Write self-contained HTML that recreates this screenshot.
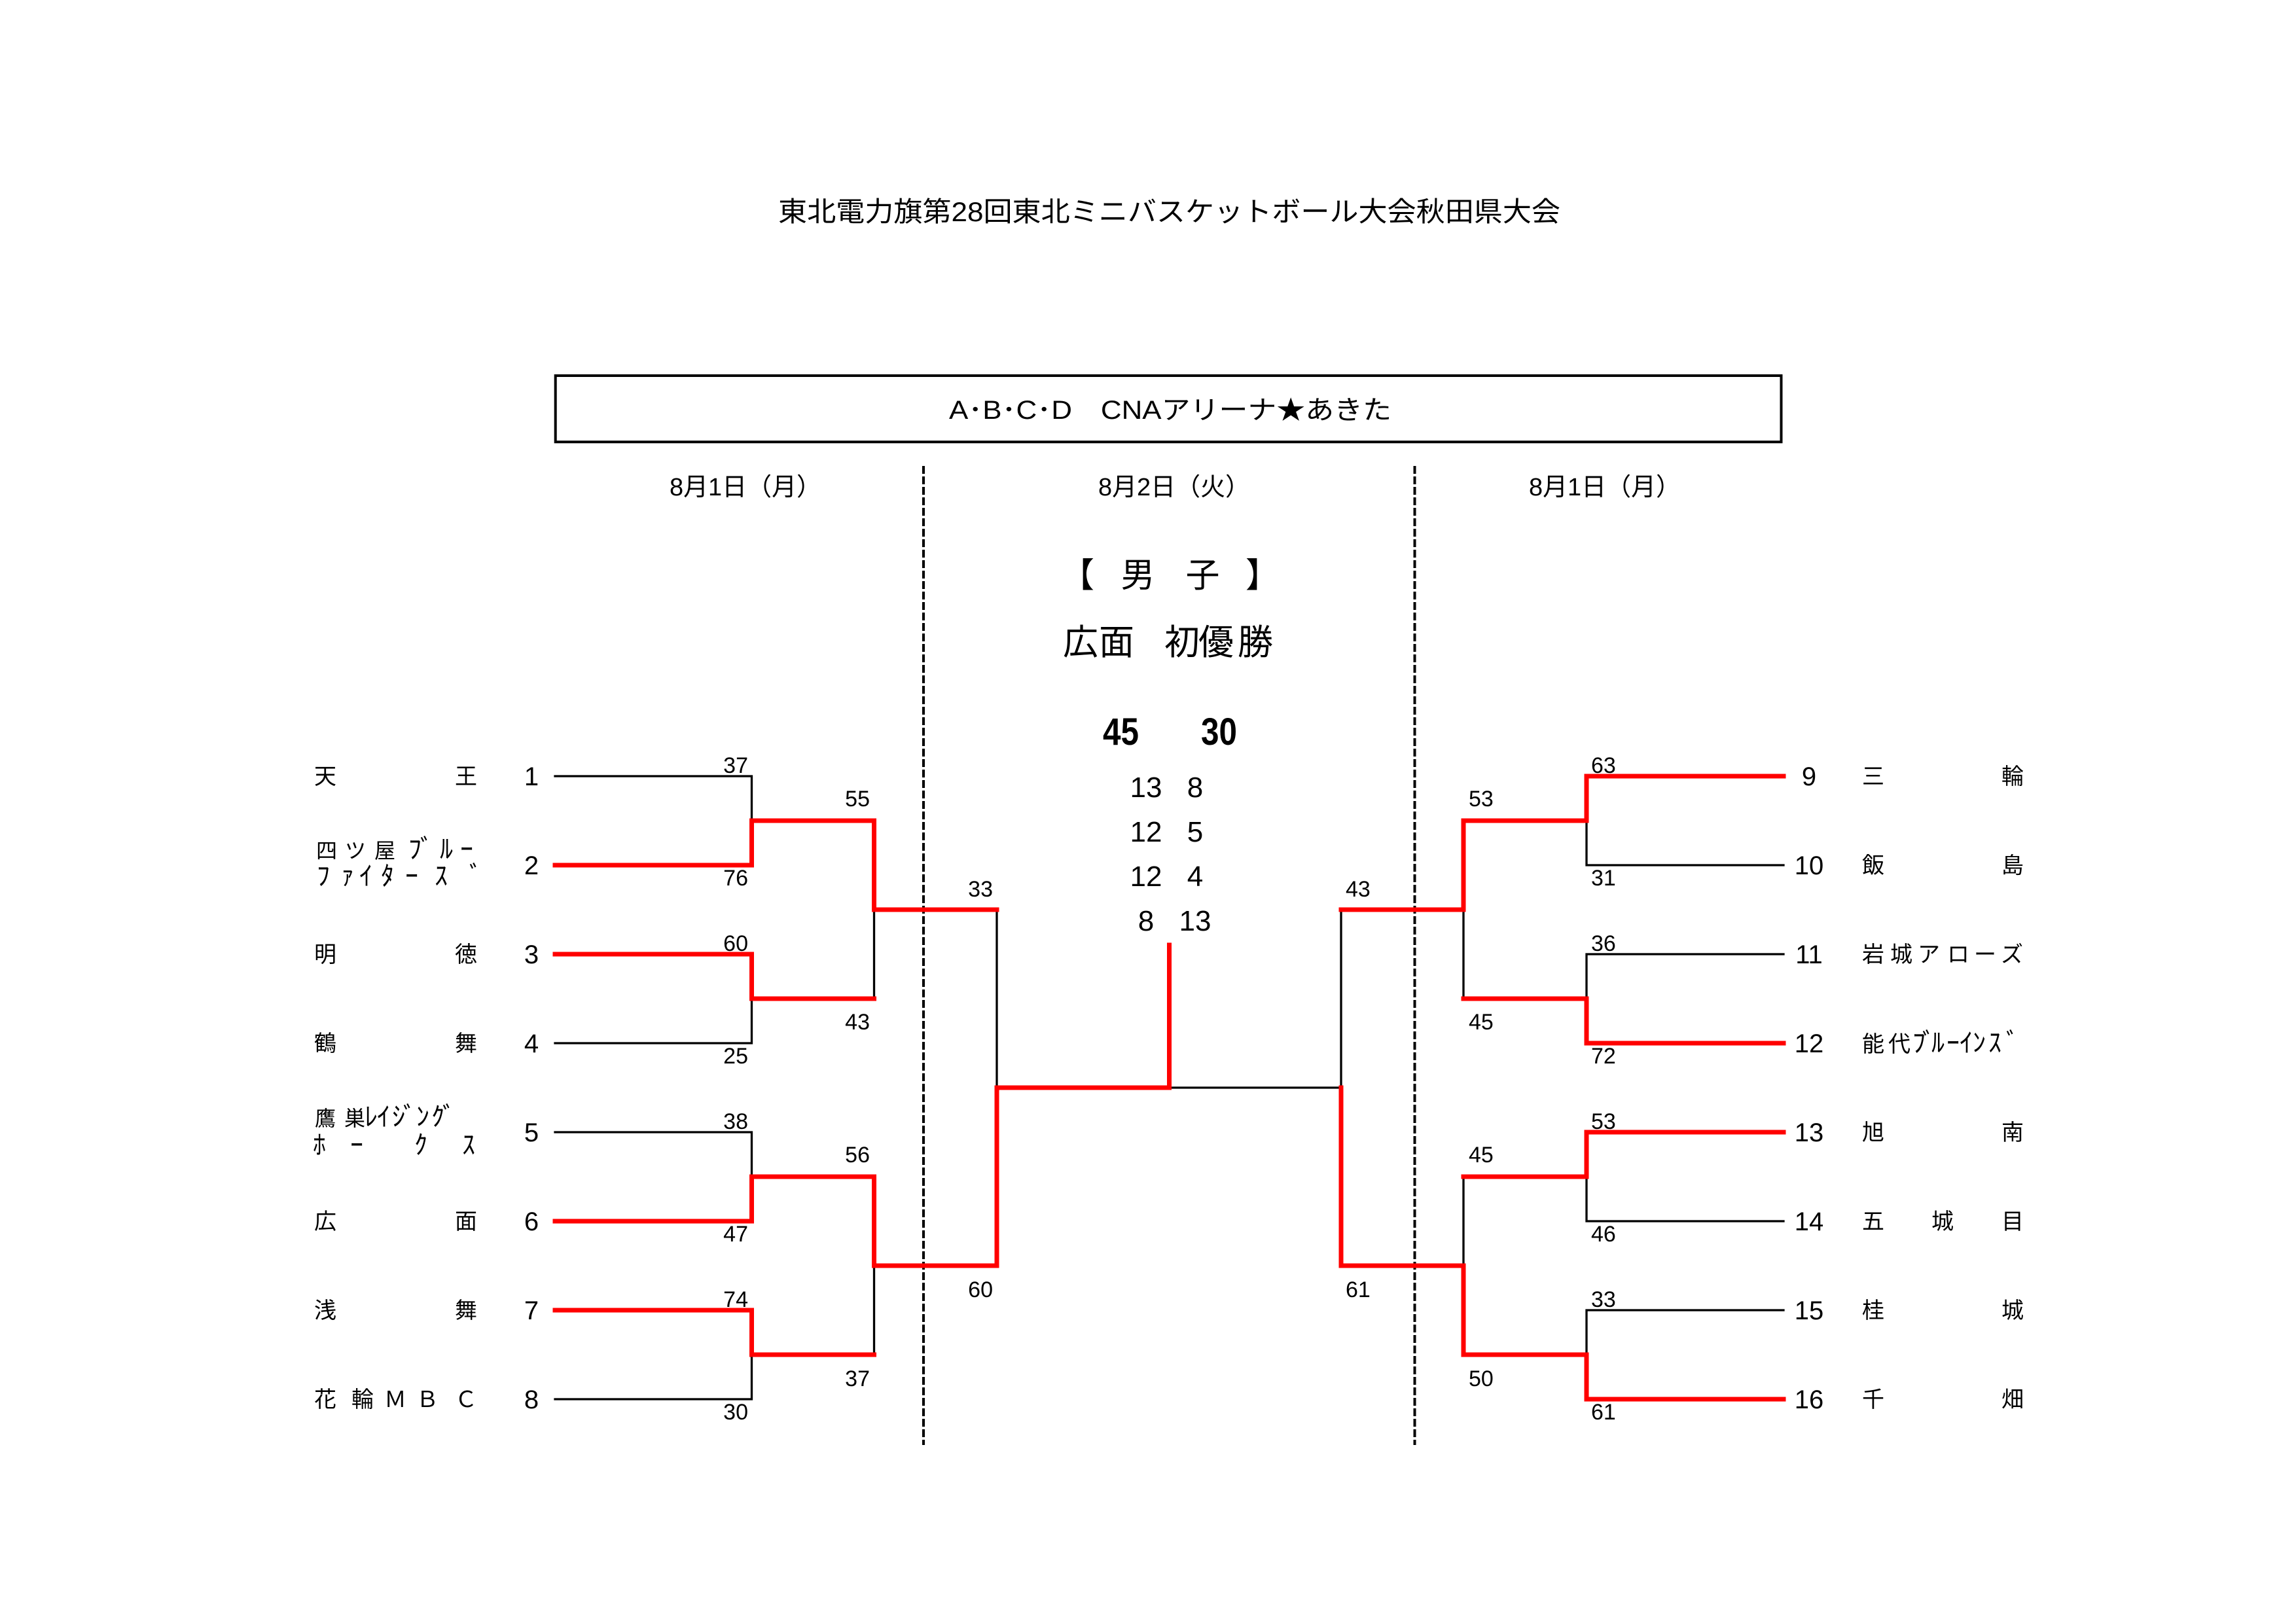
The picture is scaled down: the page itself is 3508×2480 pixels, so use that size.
<!DOCTYPE html>
<html lang="ja">
<head>
<meta charset="utf-8">
<style>
html,body{margin:0;padding:0;background:#fff;}
body{width:3508px;height:2480px;overflow:hidden;}
svg{display:block;}
text{font-family:"Liberation Sans","Noto Sans CJK JP",sans-serif;fill:#000;}
.nm{font-size:34px;}
.nm2{font-size:32px;}
.hk{font-size:40px;}
.num{font-size:40px;}
.sc{font-size:34px;}
.ps{font-size:44px;}
.blk{stroke:#000;stroke-width:3.3;fill:none;stroke-linecap:square;stroke-linejoin:miter;}
.red{stroke:#ff0000;stroke-width:7;fill:none;stroke-linecap:square;stroke-linejoin:miter;}
.dash{stroke:#000;stroke-width:4;stroke-dasharray:12 4;fill:none;}
</style>
</head>
<body>
<svg width="3508" height="2480" viewBox="0 0 3508 2480" xmlns="http://www.w3.org/2000/svg">
<rect x="0" y="0" width="3508" height="2480" fill="#fff"/>

<!-- Title -->
<text x="1189" y="338" font-size="42" textLength="1195" lengthAdjust="spacingAndGlyphs">東北電力旗第28回東北ミニバスケットボール大会秋田県大会</text>

<!-- Venue box -->
<rect x="848.7" y="574" width="1872.8" height="101.3" fill="none" stroke="#000" stroke-width="4"/>
<text x="1450" y="640" font-size="40" textLength="676" lengthAdjust="spacingAndGlyphs">A･B･C･D　CNAアリーナ★あきた</text>

<!-- Dates -->
<text x="1023" y="757" font-size="38" textLength="232" lengthAdjust="spacingAndGlyphs">8月1日（月）</text>
<text x="1678" y="757" font-size="38" textLength="232" lengthAdjust="spacingAndGlyphs">8月2日（火）</text>
<text x="2336" y="757" font-size="38" textLength="232" lengthAdjust="spacingAndGlyphs">8月1日（月）</text>

<!-- Dashed dividers -->
<line class="dash" x1="1411" y1="712" x2="1411" y2="2208"/>
<line class="dash" x1="2161.5" y1="712" x2="2161.5" y2="2208"/>

<!-- Center heading -->
<g font-size="52" text-anchor="middle">
<text x="1646" y="897">【</text>
<text x="1738.5" y="897">男</text>
<text x="1837.5" y="897">子</text>
<text x="1929" y="897">】</text>
</g>
<text x="1624 1679 1730 1779 1831 1891" y="1000" font-size="54">広面　初優勝</text>

<text x="1685" y="1138" font-size="58" font-weight="bold" textLength="55" lengthAdjust="spacingAndGlyphs">45</text>
<text x="1835" y="1138" font-size="58" font-weight="bold" textLength="55" lengthAdjust="spacingAndGlyphs">30</text>

<g class="ps" text-anchor="middle">
<text x="1751" y="1218">13</text><text x="1826" y="1218">8</text>
<text x="1751" y="1286">12</text><text x="1826" y="1286">5</text>
<text x="1751" y="1354">12</text><text x="1826" y="1354">4</text>
<text x="1751" y="1422">8</text><text x="1826" y="1422">13</text>
</g>

<!-- ===== Black bracket lines ===== -->
<g class="blk">
<path d="M848,1186 H1148.5 V1254"/>
<path d="M848,1594 H1148.5 V1526"/>
<path d="M848,1730 H1148.5 V1798"/>
<path d="M848,2138 H1148.5 V2070"/>
<path d="M1335.5,1390 V1526"/>
<path d="M1335.5,1934 V2070"/>
<path d="M1523,1390 V1662"/>
<path d="M1786.5,1662 H2049"/>
<path d="M2049,1390 V1662"/>
<path d="M2236,1390 V1526"/>
<path d="M2236,1798 V1934"/>
<path d="M2725,1322 H2424 V1254"/>
<path d="M2725,1458 H2424 V1526"/>
<path d="M2725,1866 H2424 V1798"/>
<path d="M2725,2002 H2424 V2070"/>
</g>

<!-- ===== Red winner paths ===== -->
<g class="red">
<path d="M848,1322 H1148.5 V1254 H1335.5 V1390 H1523"/>
<path d="M848,1458 H1148.5 V1526 H1335.5"/>
<path d="M848,1866 H1148.5 V1798 H1335.5 V1934 H1523 V1662 H1786.5 V1444"/>
<path d="M848,2002 H1148.5 V2070 H1335.5"/>
<path d="M2725,1186 H2424 V1254 H2236 V1390 H2049"/>
<path d="M2725,1594 H2424 V1526 H2236"/>
<path d="M2725,1730 H2424 V1798 H2236"/>
<path d="M2725,2138 H2424 V2070 H2236 V1934 H2049 V1662"/>
</g>

<!-- ===== Score labels ===== -->
<g class="sc" text-anchor="end">
<text x="1143" y="1181">37</text>
<text x="1143" y="1353">76</text>
<text x="1143" y="1453">60</text>
<text x="1143" y="1625">25</text>
<text x="1143" y="1725">38</text>
<text x="1143" y="1897">47</text>
<text x="1143" y="1997">74</text>
<text x="1143" y="2169">30</text>
<text x="1329" y="1232">55</text>
<text x="1329" y="1573">43</text>
<text x="1329" y="1776">56</text>
<text x="1329" y="2118">37</text>
<text x="1517" y="1370">33</text>
<text x="1517" y="1982">60</text>
</g>
<g class="sc" text-anchor="start">
<text x="2431" y="1181">63</text>
<text x="2431" y="1353">31</text>
<text x="2431" y="1453">36</text>
<text x="2431" y="1625">72</text>
<text x="2431" y="1725">53</text>
<text x="2431" y="1897">46</text>
<text x="2431" y="1997">33</text>
<text x="2431" y="2169">61</text>
<text x="2244" y="1232">53</text>
<text x="2244" y="1573">45</text>
<text x="2244" y="1776">45</text>
<text x="2244" y="2118">50</text>
<text x="2056" y="1370">43</text>
<text x="2056" y="1982">61</text>
</g>

<!-- ===== Seed numbers ===== -->
<g class="num" text-anchor="middle">
<text x="812" y="1200">1</text>
<text x="812" y="1336">2</text>
<text x="812" y="1472">3</text>
<text x="812" y="1608">4</text>
<text x="812" y="1744">5</text>
<text x="812" y="1880">6</text>
<text x="812" y="2016">7</text>
<text x="812" y="2152">8</text>
<text x="2764" y="1200">9</text>
<text x="2764" y="1336">10</text>
<text x="2764" y="1472">11</text>
<text x="2764" y="1608">12</text>
<text x="2764" y="1744">13</text>
<text x="2764" y="1880">14</text>
<text x="2764" y="2016">15</text>
<text x="2764" y="2152">16</text>
</g>

<!-- ===== Left team names ===== -->
<text class="nm" x="480 695" y="1198">天王</text>
<text class="nm2" x="483 527 572 624 642 672 703" y="1311">四ツ屋<tspan class="hk">ﾌﾞﾙｰ</tspan></text>
<text class="nm2" x="484 521 549 582 619 664 717" y="1352"><tspan class="hk">ﾌｧｲﾀｰｽﾞ</tspan></text>
<text class="nm" x="480 695" y="1470">明徳</text>
<text class="nm" x="480 695" y="1606">鶴舞</text>
<text class="nm2" x="481 526 557 576 599 616 636 659 676" y="1720">鷹巣<tspan class="hk">ﾚｲｼﾞﾝｸﾞ</tspan></text>
<text class="nm2" x="478 535 633 706" y="1763"><tspan class="hk">ﾎｰｸｽ</tspan></text>
<text class="nm" x="480 695" y="1878">広面</text>
<text class="nm" x="480 695" y="2014">浅舞</text>
<text class="nm" x="480 537 587 636 695" y="2150">花輪ＭＢＣ</text>

<!-- ===== Right team names ===== -->
<text class="nm" x="2845 3058" y="1198">三輪</text>
<text class="nm" x="2845 3058" y="1334">飯島</text>
<text class="nm" x="2845 2888 2930 2975 3016 3057" y="1470">岩城アローズ</text>
<text class="nm" x="2845 2885 2922 2937 2951 2974 2994 3014 3038 3065" y="1607">能代<tspan class="hk">ﾌﾞﾙｰｲﾝｽﾞ</tspan></text>
<text class="nm" x="2845 3058" y="1742">旭南</text>
<text class="nm" x="2845 2951 3058" y="1878">五城目</text>
<text class="nm" x="2845 3058" y="2014">桂城</text>
<text class="nm" x="2845 3058" y="2150">千畑</text>
</svg>
</body>
</html>
